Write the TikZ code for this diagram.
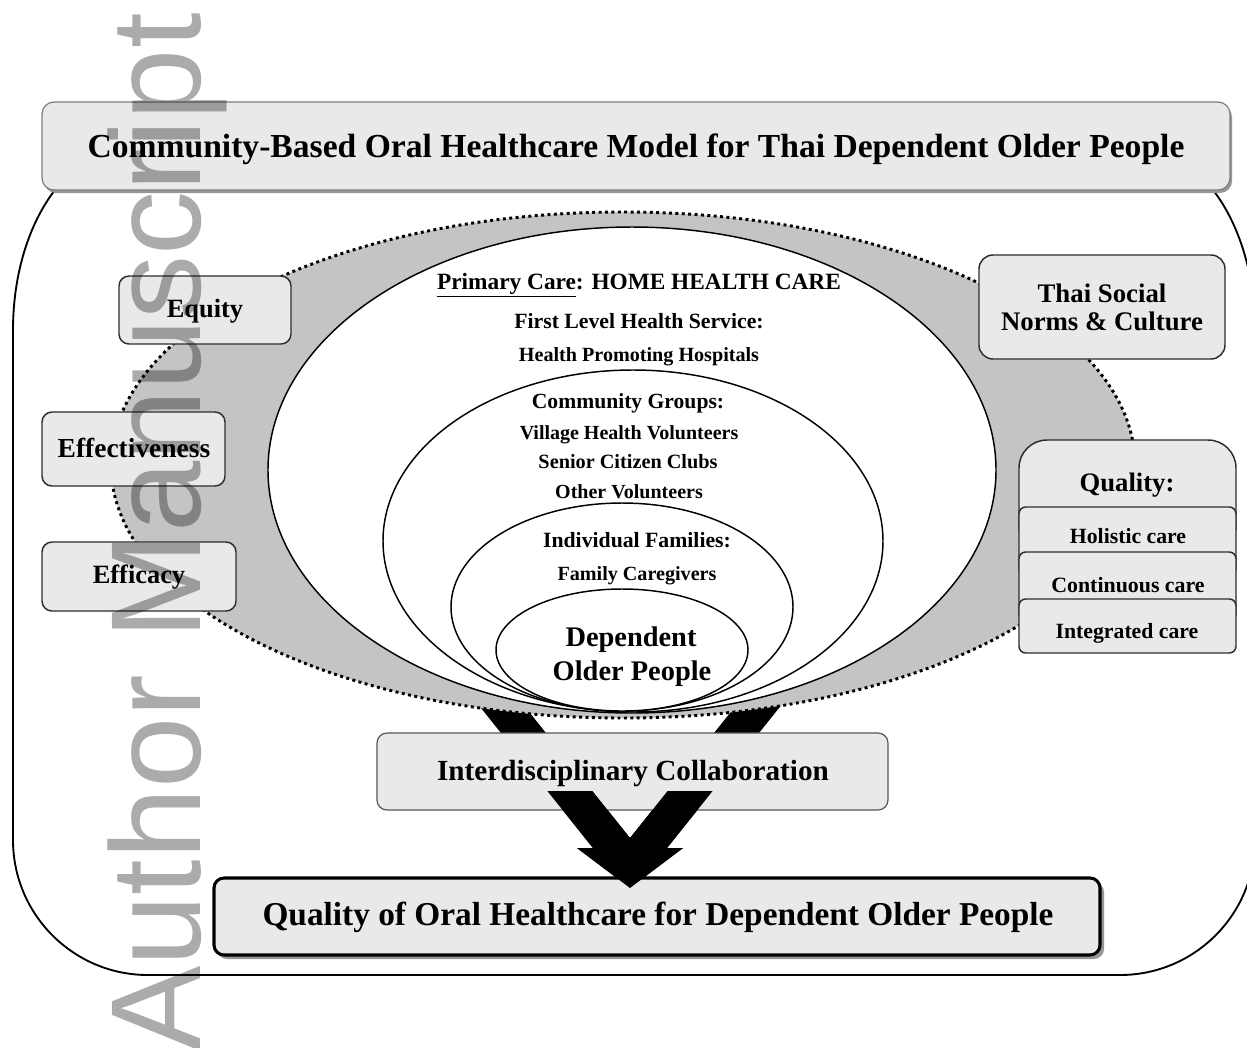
\documentclass[tikz,border=0pt]{standalone}
\usepackage{fontspec}
\setmainfont{Liberation Serif}
\newfontfamily\wmfont{Liberation Sans}
\definecolor{boxfill}{RGB}{233,233,233}
\definecolor{ringfill}{RGB}{196,196,196}
\definecolor{boxline}{RGB}{45,45,45}
\definecolor{titleline}{RGB}{125,125,125}
\definecolor{shadowgray}{RGB}{150,150,150}
\begin{document}
\begin{tikzpicture}[x=0.75pt,y=-0.75pt,
  box/.style={draw=boxline, line width=1.1pt, fill=boxfill, rounded corners=7.5pt},
  lbl/.style={anchor=base, inner sep=0pt, font=\bfseries\fontsize{#1}{#1}\selectfont},
  ring/.style={draw=black, line width=1.1pt, fill=white},
  dotline/.style={draw=black, line width=2.2pt, dash pattern=on 2.2pt off 2.6pt},
  bigarrow/.style={fill=black, draw=none}
]
\fill[white] (0,0) rectangle (1247,1047);
\useasboundingbox (0,0) rectangle (1247,1047);

% outer frame (top corners sit behind the title bar)
\draw[line width=1.4pt, fill=white]
  (13,330) arc[start angle=180, end angle=270, x radius=113, y radius=180]
  -- (1142,150) arc[start angle=270, end angle=360, x radius=113, y radius=180]
  -- (1255,840) arc[start angle=0, end angle=90, radius=135]
  -- (148,975) arc[start angle=90, end angle=180, radius=135] -- cycle;

% V-shaped flow arrow (upper part shows between rings and collaboration box)
\coordinate (vl1) at (466.6,690);
\coordinate (vl2) at (593,848);
\coordinate (vl3) at (577,848);
\coordinate (vtip) at (630,888);
\coordinate (vr3) at (683,848);
\coordinate (vr2) at (667,848);
\coordinate (vr1) at (793.4,690);
\coordinate (vr0) at (748.4,690);
\coordinate (vnotch) at (630,838);
\coordinate (vl0) at (511.6,690);
\path[bigarrow] (vl1) -- (vl2) -- (vl3) -- (vtip) -- (vr3) -- (vr2) -- (vr1) -- (vr0) -- (vnotch) -- (vl0) -- cycle;

% shaded context ring
\path[fill=ringfill] (623,465) ellipse[x radius=512, y radius=253];
\path[dotline] (623,465) ellipse[x radius=512, y radius=253];

% nested care levels
\path[ring] (632,470) ellipse[x radius=364, y radius=243];
\path[ring] (633,541) ellipse[x radius=250, y radius=171];
\path[ring] (622,607) ellipse[x radius=171, y radius=104];
\path[ring] (622,650) ellipse[x radius=126, y radius=61];

\node[lbl=17.5pt] (primary) at (639,289) {\underline{Primary Care}: HOME HEALTH CARE};
\node[lbl=16.3pt] (firstlevel) at (639,328) {First Level Health Service:};
\node[lbl=15.1pt] (hospitals) at (639,361) {Health Promoting Hospitals};
\node[lbl=16.2pt] (community) at (628,408) {Community Groups:};
\node[lbl=15pt] (village) at (629,439) {Village Health Volunteers};
\node[lbl=15.2pt] (senior) at (628,468) {Senior Citizen Clubs};
\node[lbl=15pt] (othervol) at (629,498) {Other Volunteers};
\node[lbl=16.3pt] (families) at (637,547) {Individual Families:};
\node[lbl=15.1pt] (caregivers) at (637,580) {Family Caregivers};
\node[lbl=21.3pt] (dep1) at (631,646) {Dependent};
\node[lbl=21.3pt] (dep2) at (632,680) {Older People};

% principles on the left
\path[box] (119,276) rectangle (291,344);
\node[lbl=19.8pt] (equity) at (205,317) {Equity};
\path[box] (42,412) rectangle (225,486);
\node[lbl=20.6pt] (effect) at (134,457) {Effectiveness};
\path[box] (42,542) rectangle (236,611);
\node[lbl=19.8pt] (efficacy) at (139,583) {Efficacy};

% context and quality on the right
\path[box, rounded corners=10.5pt] (979,255) rectangle (1225,359);
\node[lbl=20.1pt] (thai1) at (1102,302) {Thai Social};
\node[lbl=20.1pt] (thai2) at (1102,330) {Norms \& Culture};

\path[box, rounded corners=0pt] (1019,530) {[rounded corners=21pt] -- (1019,440) -- (1236,440)} -- (1236,530) -- cycle;
\node[lbl=20pt] (quality) at (1127,491) {Quality:};
\path[box, rounded corners=5pt] (1019,507) rectangle (1236,575);
\node[lbl=16.3pt] (holistic) at (1128,543) {Holistic care};
\path[box, rounded corners=5pt] (1019,552) rectangle (1236,620);
\node[lbl=16.4pt] (continuous) at (1128,592) {Continuous care};
\path[box, rounded corners=5pt] (1019,599) rectangle (1236,653);
\node[lbl=16.3pt] (integrated) at (1127,638) {Integrated care};

% title bar
\path[fill=shadowgray, rounded corners=9pt] (44,105) rectangle (1232,193);
\path[draw=titleline, line width=0.9pt, fill=boxfill, rounded corners=9pt] (42,102) rectangle (1230,190);
\node[lbl=25.2pt] (title) at (636,157) {Community-Based Oral Healthcare Model for Thai Dependent Older People};

% collaboration
\path[box, draw=boxline!80, line width=0.9pt] (377,733) rectangle (888,810);
\node[lbl=21.9pt] (collab) at (633,780) {Interdisciplinary Collaboration};

% outcome
\path[fill=shadowgray, rounded corners=7.5pt] (217,882) rectangle (1104,959);
\path[draw=black, line width=2.3pt, fill=boxfill, rounded corners=7.5pt] (214,878) rectangle (1100,955);
\node[lbl=25pt] (outcome) at (658,925) {Quality of Oral Healthcare for Dependent Older People};

% lower part of the arrow, over the collaboration box
\begin{scope}
  \clip (0,791) rectangle (1247,900);
  \path[bigarrow] (vl1) -- (vl2) -- (vl3) -- (vtip) -- (vr3) -- (vr2) -- (vr1) -- (vr0) -- (vnotch) -- (vl0) -- cycle;
\end{scope}

% watermark
\node[anchor=base west, rotate=90, inner sep=0pt, text=black, text opacity=0.33] (wm) at (200,1052)
  {\wmfont\fontsize{96pt}{96pt}\selectfont Author Manuscript};
\end{tikzpicture}
\end{document}
